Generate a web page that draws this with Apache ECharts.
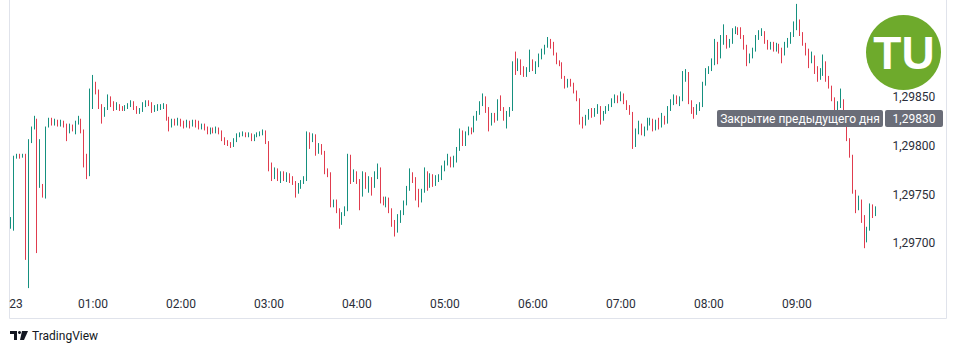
<!DOCTYPE html>
<html>
<head>
<meta charset="utf-8">
<script src="https://cdn.jsdelivr.net/npm/echarts@6/dist/echarts.min.js"></script>
<style>
html,body{margin:0;padding:0;background:#fff;}
#c{width:958px;height:352px;}
</style>
</head>
<body>
<div id="c"></div>
<script>
// Prices in points above 1.29000 (price = 1.29 + pts/100000); 2-minute candles from 00:00
const openPts = [
null,null,718,718,788,790,789,791,693,805,
818,826,759,759,749,820,827,823,826,822,
824,821,815,820,818,823,826,815,785,772,
851,864,856,841,834,838,850,843,840,842,
839,838,840,842,845,839,835,837,843,845,
844,836,839,840,841,842,828,820,826,824,
827,823,821,824,822,826,823,820,821,818,
815,817,816,818,815,807,804,802,800,806,
811,812,813,811,812,806,810,812,813,815,
804,780,769,774,768,772,766,770,766,763,
754,759,763,767,813,805,811,795,800,793,
774,772,741,743,734,721,730,735,789,769,
772,764,749,771,762,766,759,769,777,746,
743,745,734,721,713,726,732,741,756,772,
766,748,744,754,772,760,768,762,766,767,
777,783,787,780,785,797,815,802,813,817,
815,828,833,843,850,838,823,831,828,846,
838,830,832,838,885,881,887,879,874,877,
885,879,882,891,897,902,907,905,895,886,
885,871,862,866,864,856,848,826,823,829,
834,832,836,840,828,834,838,841,846,849,
847,852,846,840,834,800,815,821,815,817,
824,827,817,824,820,828,826,838,844,849,
846,848,872,874,846,836,834,840,842,864,
877,879,885,905,892,909,912,905,907,918,
920,917,912,902,887,892,899,911,916,917,
907,903,904,901,903,899,895,903,907,914,
923,928,915,905,895,887,892,877,870,874,
885,871,861,848,840,842,847,826,807,790,
754,736,743,726,703,715,738,732
];
const closePts = [
null,null,721,788,790,789,791,693,805,818,
828,693,805,749,818,827,823,826,822,824,
821,815,820,818,823,828,815,785,772,856,
864,856,841,834,838,850,843,840,842,839,
838,840,842,845,839,835,837,843,845,844,
836,839,840,841,842,828,820,826,824,827,
823,821,824,822,826,823,820,821,818,815,
817,816,818,815,807,804,802,800,806,811,
812,813,811,812,806,810,812,813,815,804,
780,769,774,768,772,766,770,766,763,754,
759,763,767,813,805,811,795,800,793,774,
772,741,743,734,721,730,735,789,769,772,
764,749,771,762,766,759,769,777,746,743,
745,734,721,713,726,732,741,756,772,766,
748,744,754,772,760,768,762,766,767,777,
783,787,780,785,797,815,802,813,817,815,
828,833,843,850,838,823,831,828,846,838,
830,832,838,885,881,887,879,874,877,885,
879,882,891,897,902,907,905,895,886,885,
871,862,866,864,856,848,826,823,829,834,
832,836,840,828,834,838,841,846,849,847,
852,846,840,834,800,815,821,815,817,824,
827,817,824,820,828,826,838,844,849,846,
848,872,874,846,836,834,840,842,864,877,
879,885,905,892,909,912,905,907,918,920,
917,912,902,887,892,899,911,916,917,907,
903,904,901,903,899,895,903,907,914,923,
928,915,905,895,887,892,877,870,874,885,
871,861,848,840,842,847,826,807,790,754,
736,743,726,703,715,738,732,734
];
const lowPts = [
null,null,715,713,787,787,788,683,654,803,
817,690,757,747,746,819,821,821,820,820,
819,805,813,815,812,822,813,778,766,769,
838,853,838,823,830,837,840,836,837,836,
836,836,838,840,837,833,833,835,840,841,
834,835,836,837,838,826,815,819,821,821,
820,818,819,818,820,819,817,817,816,812,
812,813,813,812,805,801,800,798,799,804,
809,810,809,809,805,805,809,810,811,802,
774,764,766,764,762,764,763,762,760,747,
751,756,761,764,797,804,790,792,791,771,
768,737,737,731,715,719,728,733,761,763,
761,734,748,756,752,749,757,766,741,739,
737,731,717,707,711,721,729,739,754,762,
744,737,742,752,754,757,758,759,763,765,
774,780,778,778,783,795,800,800,811,812,
814,826,832,841,834,815,821,824,826,836,
826,818,830,836,873,877,873,871,871,876,
877,874,881,889,894,901,900,893,884,882,
869,859,860,861,854,846,822,818,821,827,
829,830,833,822,826,833,836,840,844,844,
846,843,837,832,797,799,812,811,810,816,
821,815,816,817,819,822,823,836,842,843,
841,846,866,843,833,828,832,836,840,862,
874,877,883,884,890,904,900,901,905,915,
914,910,899,882,885,890,897,909,913,905,
899,899,897,897,895,885,893,901,905,912,
919,913,903,893,880,885,874,866,868,872,
866,859,846,836,836,839,822,805,788,751,
731,734,721,695,701,713,726,728
];
const highPts = [
null,null,727,790,792,792,792,792,807,820,
831,828,807,761,820,829,829,828,827,827,
826,823,823,822,826,831,828,817,792,859,
873,866,858,843,840,853,851,846,845,843,
841,842,844,847,846,841,839,845,847,847,
845,842,843,843,844,843,830,828,828,829,
828,826,827,826,827,827,826,823,823,820,
819,819,820,819,816,809,806,804,808,813,
814,815,814,814,813,812,814,815,817,816,
805,783,778,777,774,774,773,772,769,764,
762,765,769,815,814,813,812,803,802,795,
777,773,745,745,736,732,738,792,791,776,
774,766,774,773,769,768,774,782,778,748,
748,747,736,724,730,734,744,759,777,773,
768,756,756,778,774,772,771,770,771,780,
785,792,789,790,799,818,816,815,820,819,
831,836,846,854,851,840,834,834,848,852,
840,836,840,887,897,890,889,882,881,899,
889,887,895,900,904,912,910,907,896,888,
886,872,869,869,865,857,849,830,832,838,
839,839,843,841,836,841,843,849,853,852,
856,854,847,842,835,818,826,823,820,829,
829,828,827,829,834,831,841,848,853,852,
851,877,879,876,847,840,843,845,866,880,
882,890,910,907,914,925,914,910,921,923,
922,922,914,904,895,901,914,919,921,918,
909,907,907,906,905,901,907,911,917,928,
946,930,917,906,900,897,893,882,880,894,
887,872,862,850,846,859,848,827,808,791,
755,749,745,729,717,741,740,738
];
const prevClose = 1.29830;
const prevCloseLabel = 'Закрытие предыдущего дня';
const dayLabel = '23';
const hourLabels = ['01:00','02:00','03:00','04:00','05:00','06:00','07:00','08:00','09:00'];
const priceLabels = [1.2970, 1.2975, 1.2980, 1.2985]; // 1,29900 is hidden under the logo in the reference

// time categories (2-minute slots)
const categories = [];
for (let i = 0; i < openPts.length; i++) {
  const m = i * 2;
  categories.push(String(Math.floor(m / 60)).padStart(2, '0') + ':' + String(m % 60).padStart(2, '0'));
}
const toPrice = v => (129000 + v) / 100000;
const candles = openPts.map((o, i) => o == null ? '-' :
  [toPrice(o), toPrice(closePts[i]), toPrice(lowPts[i]), toPrice(highPts[i])]);

const UP = '#15907f', DOWN = '#e03c4e';
const chart = echarts.init(document.getElementById('c'), null, {renderer: 'svg'});
chart.setOption({
  animation: false,
  backgroundColor: '#ffffff',
  grid: {left: 3.5, width: 874, top: -2, height: 294},
  xAxis: {
    type: 'category', data: categories, boundaryGap: true,
    axisLine: {show: false}, axisTick: {show: false}, splitLine: {show: false},
    axisLabel: {
      margin: 6, color: '#2a2e39', fontSize: 12, fontFamily: 'Roboto',
      interval: (idx, val) => hourLabels.indexOf(val) >= 0
    }
  },
  yAxis: {
    type: 'value', position: 'right', min: 1.2965, max: 1.2995, interval: 0.0005,
    splitLine: {show: false}, axisLine: {show: false}, axisTick: {show: false},
    axisLabel: {
      showMinLabel: false, showMaxLabel: false, margin: 15,
      color: '#2a2e39', fontSize: 12, fontFamily: 'Roboto',
      formatter: v => priceLabels.some(p => Math.abs(p - v) < 1e-7) ? v.toFixed(5).replace('.', ',') : ''
    }
  },
  series: [{
    type: 'candlestick',
    data: candles,
    barWidth: 1,
    itemStyle: {color: UP, color0: DOWN, borderColor: UP, borderColor0: DOWN, borderWidth: 1},
    markLine: {
      silent: true, symbol: ['none', 'none'], label: {show: false},
      lineStyle: {color: '#5d606b', type: [1, 3], width: 1},
      data: [{yAxis: prevClose}]
    }
  }]
});

const py = chart.convertToPixel({yAxisIndex: 0}, prevClose);
const dayX = chart.convertToPixel({xAxisIndex: 0}, 0);
const gridRect = chart.getModel().getComponent('grid').coordinateSystem.getRect();
const axisLabelY = gridRect.y + gridRect.height + 12;
chart.setOption({
  graphic: [
    {type: 'polyline', z: 50, shape: {points: [[9.5, 0], [9.5, 318.5], [946.5, 318.5], [946.5, 0]]},
     style: {stroke: '#e0e3eb', fill: null, lineWidth: 1}},
    {type: 'text', z: 50, x: dayX + 11, y: axisLabelY,
     style: {text: dayLabel, fill: '#2a2e39', font: '12px Roboto', textAlign: 'center', textVerticalAlign: 'middle'}},
    {type: 'rect', z: 60, shape: {x: 717, y: Math.round(py) - 7, width: 166, height: 17, r: 2}, style: {fill: '#6a6d78'}},
    {type: 'text', z: 61, x: 800, y: Math.round(py) + 1.5,
     style: {text: prevCloseLabel, fill: '#ffffff', font: '12px Roboto', textAlign: 'center', textVerticalAlign: 'middle'}},
    {type: 'rect', z: 60, shape: {x: 885, y: Math.round(py) - 7, width: 58, height: 17, r: 2}, style: {fill: '#6a6d78'}},
    {type: 'text', z: 61, x: 914, y: Math.round(py) + 1.5,
     style: {text: prevClose.toFixed(5).replace('.', ','), fill: '#ffffff', font: '12px Roboto', textAlign: 'center', textVerticalAlign: 'middle'}},
    {type: 'circle', z: 70, shape: {cx: 903.5, cy: 52.5, r: 37.5}, style: {fill: '#6eaa2c'}},
    {type: 'text', z: 71, x: 904, y: 53,
     style: {text: 'TU', fill: '#ffffff', font: 'bold 46px "Liberation Sans"', textAlign: 'center', textVerticalAlign: 'middle'}},
    {type: 'rect', z: 50, shape: {x: 10, y: 331, width: 7, height: 3}, style: {fill: '#131722'}},
    {type: 'rect', z: 50, shape: {x: 14, y: 331, width: 3, height: 9}, style: {fill: '#131722'}},
    {type: 'circle', z: 50, shape: {cx: 19.5, cy: 332.5, r: 1.5}, style: {fill: '#131722'}},
    {type: 'polygon', z: 50, shape: {points: [[22, 331], [28, 331], [24, 340], [20, 340]]}, style: {fill: '#131722'}},
    {type: 'text', z: 50, x: 32, y: 336,
     style: {text: 'TradingView', fill: '#131722', font: '12px Roboto', textAlign: 'left', textVerticalAlign: 'middle'}}
  ]
});
</script>
</body>
</html>
